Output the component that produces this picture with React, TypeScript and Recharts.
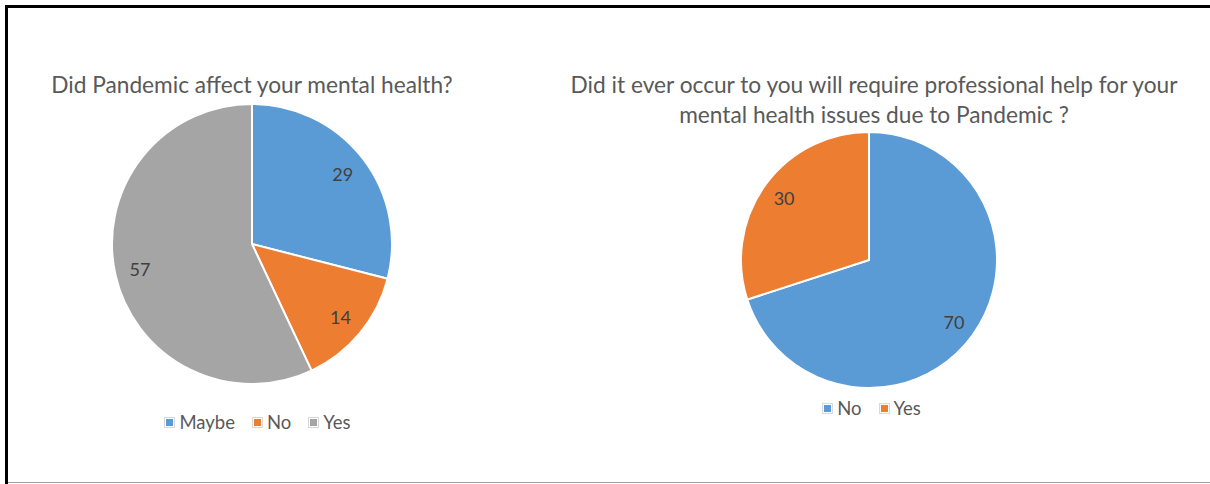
import { PieChart, Pie, Cell, Legend } from 'recharts';

const affectLabels = ['Maybe', 'No', 'Yes'];
const affectValues = [29, 14, 57];
const affectColors = ['#5b9bd5', '#ed7d31', '#a5a5a5'];

const helpLabels = ['No', 'Yes'];
const helpValues = [70, 30];
const helpColors = ['#5b9bd5', '#ed7d31'];

const FONT = 'Lato, "Open Sans", sans-serif';
const RAD = Math.PI / 180;

const affectData = affectLabels.map((name, i) => ({ name, value: affectValues[i] }));
const helpData = helpLabels.map((name, i) => ({ name, value: helpValues[i] }));

// inside label, roughly where Excel's best fit puts it
function renderLabel(props: any) {
  const { cx, cy, midAngle, outerRadius, value } = props;
  const r = outerRadius * 0.82;
  const x = cx + r * Math.cos(-midAngle * RAD);
  const y = cy + r * Math.sin(-midAngle * RAD);
  return (
    <text x={x} y={y} fill="#404040" fontSize={18} fontFamily={FONT} textAnchor="middle" dominantBaseline="central">
      {value}
    </text>
  );
}

// Excel-style legend: small coloured square inside a light box
function renderLegend(props: any) {
  const { payload } = props;
  return (
    <div style={{ display: 'flex', justifyContent: 'center', alignItems: 'center' }}>
      {payload.map((entry: any) => (
        <div key={entry.value} style={{ display: 'flex', alignItems: 'center', marginRight: 18 }}>
          <span
            style={{
              display: 'inline-block',
              width: 7,
              height: 7,
              background: entry.color,
              border: '1px solid #fff',
              outline: '1px solid #d9d9d9',
              marginRight: 5,
            }}
          />
          <span style={{ color: '#595959', fontSize: 18.5, fontFamily: FONT, lineHeight: '20px' }}>{entry.value}</span>
        </div>
      ))}
    </div>
  );
}

export default function App() {
  return (
    <div style={{ position: 'absolute', left: 0, top: 0, width: 1210, height: 484, background: '#fff', overflow: 'hidden' }}>
      {/* frame */}
      <div style={{ position: 'absolute', left: 5, top: 5, width: 1205, height: 3, background: '#000' }} />
      <div style={{ position: 'absolute', left: 5, top: 5, width: 3, height: 479, background: '#000' }} />
      <div style={{ position: 'absolute', left: 8, top: 482, width: 1202, height: 1, background: '#a0a0a0' }} />

      <div style={{ position: 'absolute', left: 0, top: 0 }}>
        <PieChart width={540} height={484}>
          <text x={252} y={84} textAnchor="middle" dominantBaseline="central" fill="#595959" fontSize={22.7} fontFamily={FONT}>
            Did Pandemic affect your mental health?
          </text>
          <Pie
            data={affectData}
            dataKey="value"
            nameKey="name"
            cx={247}
            cy={239}
            outerRadius={140}
            startAngle={90}
            endAngle={-270}
            stroke="#fff"
            strokeWidth={2}
            label={renderLabel}
            labelLine={false}
            isAnimationActive={false}
          >
            {affectData.map((d, i) => (
              <Cell key={d.name} fill={affectColors[i]} />
            ))}
          </Pie>
          <Legend
            content={renderLegend}
            wrapperStyle={{ position: 'absolute', left: 117, top: 412, width: 300 }}
          />
        </PieChart>
      </div>

      <div style={{ position: 'absolute', left: 550, top: 0 }}>
        <PieChart width={660} height={484}>
          <text x={324} y={84} textAnchor="middle" dominantBaseline="central" fill="#595959" fontSize={22.7} fontFamily={FONT}>
            Did it ever occur to you will require professional help for your
          </text>
          <text x={324} y={114} textAnchor="middle" dominantBaseline="central" fill="#595959" fontSize={22.7} fontFamily={FONT}>
            mental health issues due to Pandemic ?
          </text>
          <Pie
            data={helpData}
            dataKey="value"
            nameKey="name"
            cx={314}
            cy={255}
            outerRadius={128}
            startAngle={90}
            endAngle={-270}
            stroke="#fff"
            strokeWidth={2}
            label={renderLabel}
            labelLine={false}
            isAnimationActive={false}
          >
            {helpData.map((d, i) => (
              <Cell key={d.name} fill={helpColors[i]} />
            ))}
          </Pie>
          <Legend
            content={renderLegend}
            wrapperStyle={{ position: 'absolute', left: 231, top: 398, width: 200 }}
          />
        </PieChart>
      </div>
    </div>
  );
}
